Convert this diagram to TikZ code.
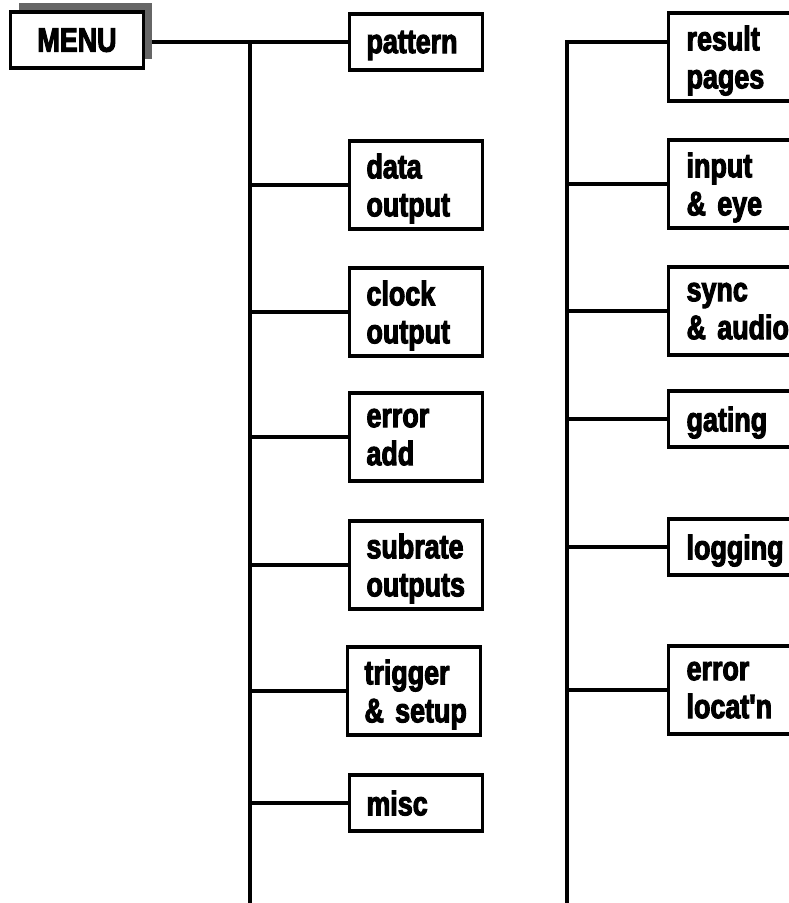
\documentclass[tikz,border=0pt]{standalone}
\usepackage{fontspec}
\setmainfont{Liberation Sans}[FakeStretch=0.79, FakeBold=3, Ligatures=TeXOff]
\usetikzlibrary{shadows,backgrounds}
\tikzset{
  menubox/.style={draw, line width=3.2pt, fill=white, minimum width=133pt, minimum height=56pt,
    inner sep=0pt, text depth=0pt, font=\bfseries\fontsize{34}{38}\selectfont,
    general shadow={fill=black!60, shadow xshift=8pt, shadow yshift=9pt}},
  itembox/.style={draw, line width=3.2pt, fill=white, minimum width=133pt, inner xsep=17pt,
    text width=99pt, align=left, font=\bfseries\fontsize{34}{38}\selectfont},
  onebox/.style={itembox, minimum height=56pt, text depth=0pt},
  twobox/.style={itembox, minimum height=88pt, text depth=38pt},
  rightbox/.style={anchor=west, text width=110pt, inner xsep=18pt},
  trunk/.style={line width=3.2pt},
  branch/.style={line width=3.2pt}
}
\begin{document}
\begin{tikzpicture}[x=1pt, y=-1pt]
  \useasboundingbox (0,0) rectangle (789,903);
  \clip (0,0) rectangle (789,903);

  % menu and left column
  \node[menubox] (menu) at (77,40) {MENU};
  \node[onebox] (pattern) at (416,42) {pattern};
  \node[twobox] (data) at (416,185) {data\\output};
  \node[twobox] (clock) at (416,312) {clock\\output};
  \node[twobox] (erradd) at (416,437) {error\\add};
  \node[twobox] (subrate) at (416,565) {subrate\\outputs};
  \node[twobox] (trigger) at (414,691) {trigger\\\mbox{\& setup}};
  \node[onebox] (misc) at (416,803) {misc};

  % right column
  \node[twobox, rightbox] (result) at (667,57) {result\\pages};
  \node[twobox, rightbox] (input) at (667,184) {input\\\& eye};
  \node[twobox, rightbox] (sync) at (667,311) {sync\\\mbox{\& audio}};
  \node[onebox, rightbox] (gating) at (667,419) {gating};
  \node[onebox, rightbox] (logging) at (667,547) {logging};
  \node[twobox, rightbox] (errloc) at (667,690) {error\\locat'n};

  \coordinate (lt) at (250,42);
  \coordinate (lb) at (250,903);
  \coordinate (rt) at (567,42);
  \coordinate (rb) at (567,903);

  \begin{scope}[on background layer]
    \draw[branch] (menu.east |- lt) -- (pattern.west |- lt);
    \draw[trunk] (lt) -- (lb);
    \foreach \n in {data,clock,erradd,subrate,trigger,misc}
      \draw[branch] (lt |- \n.west) -- (\n.west);
    \draw[trunk] (rb) -- (rt) -- (rt -| result.west);
    \foreach \n in {input,sync,gating,logging,errloc}
      \draw[branch] (rt |- \n.west) -- (\n.west);
  \end{scope}
\end{tikzpicture}
\end{document}
